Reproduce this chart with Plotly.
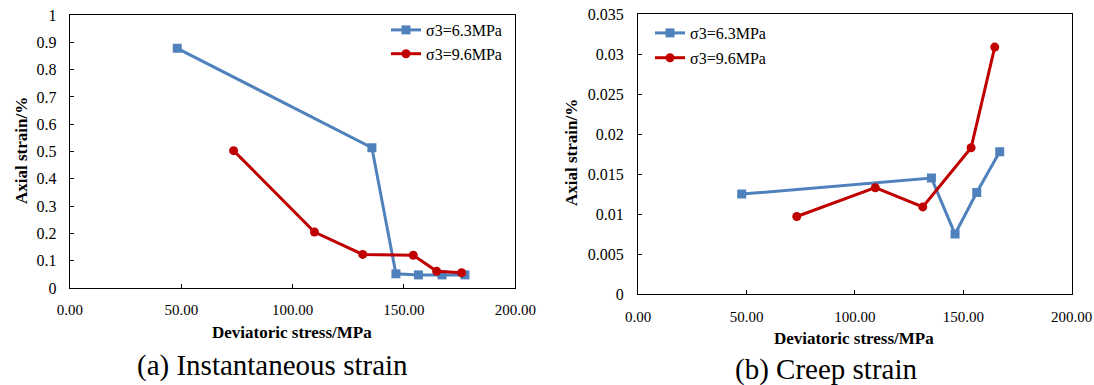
import plotly.graph_objects as go

# Data
blue_name = "σ3=6.3MPa"
red_name = "σ3=9.6MPa"

inst_blue_x = [48.2, 135.6, 146.4, 156.5, 167.1, 177.4]
inst_blue_y = [0.878, 0.514, 0.052, 0.048, 0.048, 0.048]
inst_red_x = [73.5, 109.8, 131.5, 154.2, 164.7, 175.9]
inst_red_y = [0.503, 0.205, 0.123, 0.120, 0.061, 0.056]

creep_blue_x = [47.8, 135.3, 146.2, 156.2, 166.8]
creep_blue_y = [0.0125, 0.0145, 0.0075, 0.0127, 0.0178]
creep_red_x = [73.2, 109.4, 131.3, 153.6, 164.5]
creep_red_y = [0.0097, 0.0133, 0.0109, 0.0183, 0.0309]

x_ticks = [0, 50, 100, 150, 200]
y_ticks_a = [0, 0.1, 0.2, 0.3, 0.4, 0.5, 0.6, 0.7, 0.8, 0.9, 1]
y_ticks_b = [0, 0.005, 0.01, 0.015, 0.02, 0.025, 0.03, 0.035]

BLUE = "#4F81BD"
RED = "#C00000"
FONT = "Liberation Serif"
W, H = 1094, 385

fig = go.Figure()

def add(x, y, color, symbol, name, xa, ya, legend, group):
    fig.add_trace(go.Scatter(
        x=x, y=y, mode="lines+markers", name=name,
        line=dict(color=color, width=3),
        marker=dict(color=color, symbol=symbol, size=9),
        xaxis=xa, yaxis=ya, legend=legend, legendgroup=group,
    ))

add(inst_blue_x, inst_blue_y, BLUE, "square", blue_name, "x", "y", "legend", "a1")
add(inst_red_x, inst_red_y, RED, "circle", red_name, "x", "y", "legend", "a2")
add(creep_blue_x, creep_blue_y, BLUE, "square", blue_name, "x2", "y2", "legend2", "b1")
add(creep_red_x, creep_red_y, RED, "circle", red_name, "x2", "y2", "legend2", "b2")

def px_x(p):
    return p / W

def px_y(p):
    return (H - p) / H

axis_common = dict(
    showline=True, linecolor="black", linewidth=1.3, mirror=True,
    showgrid=False, zeroline=False, automargin=False,
    ticks="inside", ticklen=4, tickcolor="black", tickwidth=1,
    ticklabeloverflow="allow",
)
xfont = dict(family=FONT, size=15, color="black")
yfont = dict(family=FONT, size=16, color="black")

fig.update_layout(
    width=W, height=H,
    margin=dict(l=0, r=0, t=0, b=0, pad=0, autoexpand=False),
    paper_bgcolor="white", plot_bgcolor="white",
    font=dict(family=FONT, color="black"),
    xaxis=dict(domain=[px_x(69.9), px_x(515.3)], range=[0, 200], tickvals=x_ticks,
               tickformat=".2f", anchor="y", ticklabelstandoff=8, tickfont=xfont,
               **axis_common),
    yaxis=dict(domain=[px_y(288), px_y(15)], range=[0, 1], tickvals=y_ticks_a,
               anchor="x", ticklabelstandoff=9, tickfont=yfont, **axis_common),
    xaxis2=dict(domain=[px_x(638.1), px_x(1071.7)], range=[0, 200], tickvals=x_ticks,
                tickformat=".2f", anchor="y2", ticklabelstandoff=9, tickfont=xfont,
                **axis_common),
    yaxis2=dict(domain=[px_y(294), px_y(14.3)], range=[0, 0.035], tickvals=y_ticks_b,
                anchor="x2", ticklabelstandoff=10, tickfont=yfont, **axis_common),
    legend=dict(x=px_x(386), y=px_y(13), xanchor="left", yanchor="top",
                bgcolor="rgba(0,0,0,0)", font=dict(family=FONT, size=16),
                tracegroupgap=0, itemwidth=30),
    legend2=dict(x=px_x(650), y=px_y(16), xanchor="left", yanchor="top",
                 bgcolor="rgba(0,0,0,0)", font=dict(family=FONT, size=16),
                 tracegroupgap=1, itemwidth=30),
)

ann = []
def text(x, y, s, size, bold=False, angle=0):
    ann.append(dict(x=px_x(x), y=px_y(y), xref="paper", yref="paper",
                    text=f"<b>{s}</b>" if bold else s,
                    showarrow=False, textangle=angle, xanchor="center", yanchor="middle",
                    font=dict(family=FONT, size=size, color="black")))

text(21, 151, "Axial strain/%", 17, bold=True, angle=-90)
text(571, 153, "Axial strain/%", 17, bold=True, angle=-90)
text(292, 332, "Deviatoric stress/MPa", 17, bold=True)
text(854, 338, "Deviatoric stress/MPa", 17, bold=True)
text(272, 365, "(a) Instantaneous strain", 29)
text(826, 369, "(b) Creep strain", 29)

fig.update_layout(annotations=ann)

# remove the browser's default 8px page margin so the figure sits at the window origin
fig.write_html("out.html", config={"displayModeBar": False},
               post_script="document.body.style.margin='0px';")
